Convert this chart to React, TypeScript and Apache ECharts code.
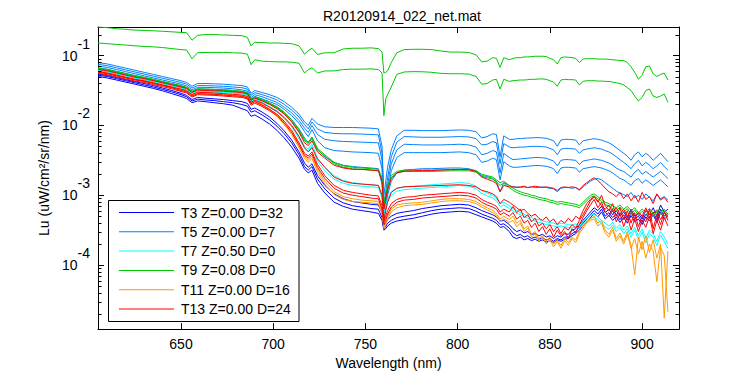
import React, { useEffect, useRef } from 'react';
import * as echarts from 'echarts';

const FONT = "'Liberation Sans', Arial, Helvetica, sans-serif";

// Wavelength grid (nm)
const wavelengths = [
  605, 610, 615, 620, 625, 630, 635, 640, 645, 650,
  653, 656, 659, 663, 668, 673, 678, 683, 686, 688,
  690, 694, 698, 702, 706, 710, 714, 717, 719, 721,
  724, 728, 733, 738, 743, 748, 753, 757, 759, 760,
  761, 762, 764, 767, 771, 776, 781, 786, 791, 796,
  801, 806, 810, 813, 816, 819, 821, 823, 825, 828,
  830, 832, 834, 836, 838, 840, 842, 844, 846, 848,
  850, 852, 854, 856, 858, 860, 862, 864, 866, 868,
  870, 872, 874, 876, 878, 880, 882, 884, 886, 888,
  890, 892, 894, 896, 898, 900, 902, 904, 906, 908, 910, 912, 914,
];

// Values are log10(Lu)
const t3Line1Log = [
  -1.265, -1.285, -1.315, -1.345, -1.375, -1.40, -1.43, -1.465, -1.50, -1.54,
  -1.57, -1.63, -1.60, -1.61, -1.62, -1.63, -1.645, -1.66, -1.685, -1.77,
  -1.75, -1.81, -1.88, -1.97, -2.08, -2.21, -2.38, -2.54, -2.60, -2.55,
  -2.72, -2.86, -2.98, -3.05, -3.09, -3.11, -3.13, -3.14, -3.25, -3.44,
  -3.40, -3.35, -3.30, -3.26, -3.24, -3.22, -3.19, -3.17, -3.15, -3.14,
  -3.13, -3.14, -3.18, -3.22, -3.25, -3.28, -3.31, -3.37, -3.36, -3.42,
  -3.48, -3.52, -3.50, -3.54, -3.52, -3.56, -3.55, -3.58, -3.56, -3.60,
  -3.58, -3.62, -3.58, -3.60, -3.55, -3.56, -3.50, -3.48, -3.42, -3.36,
  -3.30, -3.24, -3.18, -3.22, -3.16, -3.25, -3.20, -3.28, -3.22, -3.30,
  -3.24, -3.32, -3.20, -3.30, -3.26, -3.34, -3.22, -3.28, -3.18, -3.30, -3.14, -3.24, -3.20,
];
const t3Line2Log = [
  -1.28, -1.30, -1.33, -1.36, -1.39, -1.42, -1.45, -1.485, -1.52, -1.56,
  -1.59, -1.65, -1.625, -1.635, -1.645, -1.66, -1.675, -1.70, -1.725, -1.81,
  -1.79, -1.85, -1.92, -2.01, -2.12, -2.25, -2.42, -2.59, -2.64, -2.59,
  -2.77, -2.91, -3.04, -3.11, -3.15, -3.17, -3.19, -3.20, -3.32, -3.48,
  -3.45, -3.40, -3.36, -3.32, -3.30, -3.28, -3.25, -3.22, -3.20, -3.19,
  -3.18, -3.19, -3.23, -3.27, -3.30, -3.33, -3.36, -3.42, -3.41, -3.47,
  -3.54, -3.58, -3.56, -3.60, -3.58, -3.62, -3.60, -3.63, -3.61, -3.64,
  -3.62, -3.66, -3.62, -3.64, -3.60, -3.60, -3.55, -3.52, -3.46, -3.40,
  -3.34, -3.28, -3.22, -3.27, -3.20, -3.30, -3.25, -3.32, -3.27, -3.35,
  -3.28, -3.36, -3.25, -3.34, -3.30, -3.38, -3.27, -3.33, -3.24, -3.35, -3.20, -3.30, -3.26,
];
const t3Line3Log = [
  -1.30, -1.32, -1.35, -1.38, -1.41, -1.44, -1.47, -1.505, -1.545, -1.585,
  -1.615, -1.675, -1.65, -1.66, -1.675, -1.69, -1.71, -1.76, -1.79, -1.87,
  -1.85, -1.91, -1.98, -2.07, -2.18, -2.31, -2.47, -2.63, -2.68, -2.64,
  -2.83, -2.97, -3.10, -3.16, -3.20, -3.22, -3.24, -3.26, -3.36, -3.50,
  -3.48, -3.44, -3.40, -3.37, -3.35, -3.33, -3.30, -3.27, -3.25, -3.24,
  -3.23, -3.24, -3.28, -3.31, -3.34, -3.37, -3.40, -3.46, -3.45, -3.52,
  -3.60, -3.62, -3.60, -3.64, -3.62, -3.65, -3.63, -3.66, -3.64, -3.67,
  -3.65, -3.68, -3.64, -3.66, -3.63, -3.62, -3.58, -3.55, -3.50, -3.44,
  -3.38, -3.32, -3.26, -3.31, -3.24, -3.34, -3.29, -3.36, -3.31, -3.39,
  -3.32, -3.40, -3.29, -3.38, -3.34, -3.42, -3.31, -3.37, -3.28, -3.39, -3.24, -3.34, -3.30,
];

const t5Line1Log = [
  -1.10, -1.12, -1.15, -1.18, -1.21, -1.24, -1.27, -1.30, -1.33, -1.36,
  -1.385, -1.44, -1.40, -1.40, -1.405, -1.41, -1.42, -1.43, -1.45, -1.54,
  -1.50, -1.53, -1.56, -1.60, -1.66, -1.74, -1.84, -1.95, -2.00, -1.90,
  -1.98, -2.02, -2.03, -2.03, -2.03, -2.035, -2.04, -2.05, -2.30, -3.00,
  -2.80, -2.60, -2.35, -2.15, -2.07, -2.07, -2.075, -2.075, -2.075, -2.07,
  -2.065, -2.07, -2.09, -2.18, -2.16, -2.12, -2.13, -2.45, -2.15, -2.20,
  -2.20, -2.19, -2.19, -2.185, -2.18, -2.18, -2.175, -2.175, -2.18, -2.185,
  -2.20, -2.22, -2.30, -2.21, -2.20, -2.20, -2.205, -2.21, -2.28, -2.22,
  -2.21, -2.20, -2.19, -2.20, -2.21, -2.23, -2.25, -2.28, -2.32, -2.36,
  -2.40, -2.44, -2.50, -2.42, -2.38, -2.45, -2.40, -2.44, -2.50, -2.45, -2.40, -2.46, -2.52,
];
const t5Line2Log = [
  -1.125, -1.145, -1.175, -1.205, -1.235, -1.265, -1.295, -1.325, -1.355, -1.385,
  -1.41, -1.465, -1.43, -1.43, -1.435, -1.44, -1.45, -1.46, -1.48, -1.57,
  -1.53, -1.56, -1.595, -1.635, -1.70, -1.78, -1.88, -1.99, -2.05, -1.95,
  -2.05, -2.10, -2.115, -2.12, -2.12, -2.125, -2.13, -2.135, -2.40, -3.15,
  -2.95, -2.75, -2.45, -2.24, -2.16, -2.165, -2.17, -2.17, -2.17, -2.165,
  -2.16, -2.165, -2.19, -2.28, -2.27, -2.23, -2.25, -2.55, -2.26, -2.31,
  -2.32, -2.315, -2.31, -2.31, -2.305, -2.30, -2.30, -2.30, -2.305, -2.31,
  -2.33, -2.35, -2.42, -2.34, -2.33, -2.33, -2.335, -2.34, -2.40, -2.35,
  -2.34, -2.33, -2.32, -2.33, -2.34, -2.36, -2.38, -2.41, -2.45, -2.49,
  -2.53, -2.57, -2.62, -2.55, -2.50, -2.58, -2.53, -2.57, -2.62, -2.58, -2.53, -2.59, -2.64,
];
const t5Line3Log = [
  -1.15, -1.17, -1.20, -1.23, -1.26, -1.29, -1.32, -1.35, -1.38, -1.41,
  -1.435, -1.49, -1.455, -1.455, -1.46, -1.465, -1.475, -1.49, -1.51, -1.60,
  -1.56, -1.59, -1.63, -1.67, -1.74, -1.82, -1.93, -2.04, -2.10, -2.00,
  -2.13, -2.20, -2.22, -2.23, -2.235, -2.24, -2.245, -2.25, -2.50, -3.25,
  -3.05, -2.85, -2.55, -2.35, -2.27, -2.275, -2.28, -2.28, -2.28, -2.275,
  -2.27, -2.28, -2.31, -2.42, -2.40, -2.36, -2.38, -2.68, -2.40, -2.46,
  -2.49, -2.485, -2.48, -2.475, -2.47, -2.465, -2.46, -2.46, -2.465, -2.47,
  -2.49, -2.51, -2.58, -2.50, -2.49, -2.49, -2.495, -2.50, -2.56, -2.51,
  -2.50, -2.49, -2.48, -2.49, -2.50, -2.52, -2.54, -2.57, -2.61, -2.64,
  -2.66, -2.70, -2.74, -2.67, -2.63, -2.70, -2.66, -2.70, -2.74, -2.70, -2.66, -2.71, -2.76,
];
const t5Line4Log = [
  -1.175, -1.195, -1.225, -1.255, -1.285, -1.315, -1.345, -1.375, -1.405, -1.435,
  -1.46, -1.515, -1.48, -1.48, -1.485, -1.49, -1.50, -1.515, -1.535, -1.625,
  -1.585, -1.62, -1.66, -1.70, -1.77, -1.86, -1.97, -2.09, -2.16, -2.06,
  -2.22, -2.32, -2.36, -2.37, -2.38, -2.385, -2.39, -2.40, -2.62, -3.30,
  -3.15, -2.95, -2.65, -2.46, -2.39, -2.39, -2.39, -2.39, -2.39, -2.385,
  -2.38, -2.39, -2.42, -2.53, -2.51, -2.47, -2.49, -2.78, -2.52, -2.58,
  -2.60, -2.60, -2.595, -2.59, -2.585, -2.58, -2.575, -2.575, -2.58, -2.585,
  -2.60, -2.62, -2.69, -2.61, -2.60, -2.60, -2.605, -2.61, -2.67, -2.62,
  -2.61, -2.60, -2.59, -2.60, -2.61, -2.63, -2.65, -2.68, -2.72, -2.76,
  -2.78, -2.82, -2.86, -2.79, -2.76, -2.83, -2.78, -2.82, -2.86, -2.82, -2.78, -2.83, -2.88,
];
const t5Line5Log = [
  -1.19, -1.21, -1.24, -1.27, -1.30, -1.325, -1.355, -1.385, -1.415, -1.445,
  -1.465, -1.52, -1.485, -1.49, -1.495, -1.50, -1.51, -1.52, -1.54, -1.63,
  -1.60, -1.64, -1.69, -1.74, -1.82, -1.92, -2.05, -2.18, -2.25, -2.17,
  -2.35, -2.45, -2.53, -2.57, -2.59, -2.60, -2.61, -2.62, -2.85, -3.35,
  -3.20, -3.00, -2.80, -2.68, -2.64, -2.63, -2.62, -2.62, -2.615, -2.61,
  -2.61, -2.62, -2.65, -2.72, -2.73, -2.76, -2.80, -2.95, -2.82, -2.86,
  -2.88, -2.88, -2.89, -2.88, -2.89, -2.88, -2.89, -2.89, -2.88, -2.89,
  -2.90, -2.91, -2.95, -2.90, -2.89, -2.89, -2.90, -2.89, -2.93, -2.88,
  -2.84, -2.80, -2.77, -2.76, -2.78, -2.82, -2.86, -2.90, -2.94, -2.97,
  -2.99, -3.02, -2.96, -3.04, -3.00, -3.06, -2.98, -3.03, -3.08, -2.99, -3.05, -3.02, -3.07,
];

const t7Line1Log = [
  -1.21, -1.23, -1.26, -1.29, -1.32, -1.34, -1.37, -1.40, -1.43, -1.46,
  -1.48, -1.54, -1.505, -1.51, -1.515, -1.52, -1.53, -1.54, -1.56, -1.65,
  -1.62, -1.67, -1.73, -1.79, -1.88, -2.00, -2.16, -2.30, -2.34, -2.27,
  -2.47, -2.60, -2.72, -2.79, -2.82, -2.84, -2.85, -2.86, -3.00, -3.25,
  -3.15, -3.05, -2.95, -2.90, -2.88, -2.87, -2.86, -2.85, -2.84, -2.83,
  -2.82, -2.83, -2.87, -2.93, -2.97, -3.00, -3.04, -3.12, -3.10, -3.15,
  -3.19, -3.22, -3.25, -3.27, -3.30, -3.32, -3.34, -3.35, -3.37, -3.38,
  -3.39, -3.40, -3.42, -3.40, -3.41, -3.42, -3.43, -3.41, -3.44, -3.38,
  -3.33, -3.29, -3.27, -3.31, -3.36, -3.40, -3.44, -3.39, -3.47, -3.42,
  -3.50, -3.44, -3.55, -3.46, -3.58, -3.48, -3.62, -3.50, -3.55, -3.66, -3.52, -3.60, -3.70,
];
const t7Line2Log = [
  -1.215, -1.235, -1.265, -1.295, -1.325, -1.345, -1.375, -1.405, -1.435, -1.465,
  -1.49, -1.55, -1.515, -1.52, -1.525, -1.53, -1.54, -1.55, -1.57, -1.66,
  -1.63, -1.68, -1.74, -1.81, -1.90, -2.02, -2.19, -2.33, -2.37, -2.30,
  -2.51, -2.65, -2.77, -2.83, -2.86, -2.87, -2.88, -2.89, -3.05, -3.30,
  -3.20, -3.10, -3.00, -2.94, -2.92, -2.91, -2.90, -2.89, -2.88, -2.87,
  -2.86, -2.87, -2.91, -2.97, -3.01, -3.04, -3.08, -3.16, -3.14, -3.19,
  -3.23, -3.26, -3.28, -3.31, -3.33, -3.36, -3.37, -3.39, -3.40, -3.42,
  -3.43, -3.44, -3.46, -3.44, -3.45, -3.46, -3.47, -3.45, -3.48, -3.42,
  -3.37, -3.33, -3.31, -3.35, -3.40, -3.45, -3.49, -3.43, -3.52, -3.46,
  -3.55, -3.48, -3.60, -3.50, -3.63, -3.53, -3.68, -3.55, -3.60, -3.72, -3.57, -3.66, -3.76,
];

const t9Line1Log = [
  -0.59, -0.60, -0.615, -0.625, -0.635, -0.64, -0.645, -0.652, -0.66, -0.668,
  -0.672, -0.78, -0.71, -0.70, -0.70, -0.705, -0.71, -0.715, -0.74, -0.86,
  -0.81, -0.815, -0.82, -0.82, -0.825, -0.83, -0.86, -0.98, -0.93, -0.895,
  -0.985, -0.96, -0.96, -0.905, -0.895, -0.895, -0.89, -0.90, -0.95, -1.25,
  -1.24, -1.22, -1.10, -0.96, -0.915, -0.91, -0.91, -0.915, -0.935, -0.95,
  -0.95, -0.955, -0.99, -1.09, -1.08, -1.03, -1.04, -1.17, -1.03, -1.06,
  -1.04, -1.03, -1.03, -1.02, -1.02, -1.015, -1.01, -1.01, -1.01, -1.015,
  -1.04, -1.06, -1.12, -1.03, -1.02, -1.025, -1.03, -1.04, -1.10, -1.05,
  -1.045, -1.045, -1.045, -1.05, -1.05, -1.05, -1.055, -1.06, -1.065, -1.07,
  -1.07, -1.10, -1.16, -1.24, -1.34, -1.28, -1.16, -1.15, -1.26, -1.30, -1.27, -1.25, -1.35,
];
const t9Line2Log = [
  -0.82, -0.83, -0.84, -0.85, -0.86, -0.87, -0.875, -0.885, -0.90, -0.915,
  -0.92, -1.045, -0.96, -0.955, -0.955, -0.955, -0.96, -0.965, -0.98, -1.13,
  -1.06, -1.08, -1.085, -1.09, -1.09, -1.095, -1.11, -1.25, -1.20, -1.175,
  -1.25, -1.22, -1.22, -1.20, -1.195, -1.195, -1.19, -1.20, -1.25, -1.86,
  -1.62, -1.56, -1.45, -1.27, -1.235, -1.23, -1.232, -1.24, -1.255, -1.26,
  -1.26, -1.265, -1.30, -1.41, -1.40, -1.35, -1.34, -1.48, -1.34, -1.37,
  -1.36, -1.355, -1.35, -1.35, -1.345, -1.34, -1.34, -1.335, -1.335, -1.34,
  -1.36, -1.38, -1.44, -1.35, -1.34, -1.345, -1.345, -1.35, -1.42, -1.37,
  -1.36, -1.36, -1.36, -1.365, -1.365, -1.37, -1.37, -1.38, -1.39, -1.40,
  -1.42, -1.46, -1.50, -1.58, -1.65, -1.60, -1.50, -1.48, -1.58, -1.60, -1.58, -1.55, -1.67,
];
const t9Line3Log = [
  -1.18, -1.20, -1.23, -1.26, -1.29, -1.31, -1.34, -1.37, -1.40, -1.43,
  -1.455, -1.51, -1.475, -1.48, -1.485, -1.49, -1.50, -1.51, -1.53, -1.62,
  -1.59, -1.63, -1.68, -1.73, -1.81, -1.92, -2.06, -2.20, -2.24, -2.17,
  -2.33, -2.42, -2.53, -2.58, -2.60, -2.61, -2.62, -2.63, -2.75, -3.10,
  -2.98, -2.86, -2.72, -2.66, -2.64, -2.64, -2.64, -2.64, -2.635, -2.63,
  -2.63, -2.63, -2.65, -2.70, -2.72, -2.74, -2.78, -2.82, -2.80, -2.86,
  -2.90, -2.93, -2.95, -2.97, -2.98, -3.00, -3.01, -3.03, -3.04, -3.05,
  -3.07, -3.08, -3.10, -3.09, -3.10, -3.11, -3.12, -3.13, -3.15, -3.10,
  -3.05, -3.00, -2.98, -3.02, -3.06, -3.10, -3.12, -3.15, -3.18, -3.14,
  -3.20, -3.16, -3.22, -3.18, -3.25, -3.20, -3.24, -3.19, -3.26, -3.21, -3.24, -3.20, -3.28,
];
const t9Line4Log = [
  -1.19, -1.21, -1.24, -1.27, -1.30, -1.32, -1.35, -1.38, -1.41, -1.44,
  -1.465, -1.52, -1.485, -1.49, -1.495, -1.50, -1.51, -1.52, -1.54, -1.63,
  -1.60, -1.64, -1.69, -1.75, -1.83, -1.94, -2.08, -2.22, -2.26, -2.19,
  -2.35, -2.44, -2.55, -2.60, -2.62, -2.63, -2.64, -2.65, -2.78, -3.15,
  -3.02, -2.90, -2.75, -2.68, -2.66, -2.66, -2.66, -2.66, -2.655, -2.65,
  -2.65, -2.65, -2.67, -2.73, -2.75, -2.77, -2.81, -2.86, -2.83, -2.89,
  -2.93, -2.96, -2.98, -3.00, -3.01, -3.03, -3.04, -3.06, -3.07, -3.08,
  -3.10, -3.11, -3.13, -3.12, -3.13, -3.14, -3.15, -3.16, -3.18, -3.13,
  -3.08, -3.03, -3.01, -3.05, -3.09, -3.13, -3.16, -3.19, -3.22, -3.17,
  -3.24, -3.19, -3.27, -3.21, -3.29, -3.23, -3.28, -3.22, -3.30, -3.24, -3.28, -3.23, -3.32,
];

const t11Line1Log = [
  -1.23, -1.25, -1.28, -1.31, -1.34, -1.36, -1.39, -1.42, -1.45, -1.49,
  -1.51, -1.57, -1.535, -1.54, -1.545, -1.555, -1.565, -1.575, -1.595, -1.68,
  -1.65, -1.70, -1.77, -1.85, -1.96, -2.10, -2.29, -2.45, -2.50, -2.44,
  -2.63, -2.80, -2.95, -3.02, -3.05, -3.07, -3.08, -3.09, -3.22, -3.45,
  -3.38, -3.30, -3.20, -3.14, -3.12, -3.11, -3.10, -3.08, -3.06, -3.05,
  -3.05, -3.06, -3.09, -3.14, -3.18, -3.22, -3.26, -3.34, -3.30, -3.35,
  -3.30, -3.40, -3.36, -3.48, -3.44, -3.56, -3.52, -3.62, -3.58, -3.66,
  -3.60, -3.70, -3.64, -3.72, -3.62, -3.68, -3.60, -3.64, -3.52, -3.44,
  -3.38, -3.34, -3.30, -3.40, -3.36, -3.50, -3.56, -3.46, -3.62, -3.54,
  -3.66, -3.52, -3.72, -4.14, -3.60, -3.78, -3.58, -3.82, -3.64, -3.90, -3.70, -4.76, -3.80,
];
const t11Line2Log = [
  -1.235, -1.255, -1.285, -1.315, -1.345, -1.365, -1.395, -1.425, -1.455, -1.495,
  -1.52, -1.58, -1.545, -1.55, -1.555, -1.565, -1.575, -1.585, -1.605, -1.69,
  -1.66, -1.71, -1.78, -1.87, -1.99, -2.13, -2.32, -2.48, -2.53, -2.47,
  -2.67, -2.84, -2.99, -3.06, -3.09, -3.10, -3.11, -3.12, -3.26, -3.48,
  -3.42, -3.34, -3.24, -3.18, -3.15, -3.14, -3.13, -3.11, -3.09, -3.08,
  -3.08, -3.09, -3.12, -3.17, -3.21, -3.25, -3.29, -3.38, -3.34, -3.39,
  -3.36, -3.45, -3.40, -3.52, -3.47, -3.60, -3.55, -3.66, -3.60, -3.70,
  -3.64, -3.74, -3.66, -3.76, -3.65, -3.72, -3.62, -3.68, -3.55, -3.47,
  -3.40, -3.36, -3.34, -3.44, -3.40, -3.54, -3.60, -3.50, -3.66, -3.58,
  -3.70, -3.56, -3.76, -3.62, -3.84, -3.66, -3.90, -3.70, -3.80, -4.24, -3.75, -3.86, -4.67,
];

const t13Line1Log = [
  -1.20, -1.22, -1.25, -1.28, -1.31, -1.33, -1.36, -1.39, -1.42, -1.45,
  -1.47, -1.53, -1.495, -1.50, -1.505, -1.51, -1.52, -1.53, -1.55, -1.64,
  -1.61, -1.65, -1.70, -1.76, -1.84, -1.95, -2.10, -2.25, -2.29, -2.22,
  -2.38, -2.47, -2.57, -2.61, -2.63, -2.63, -2.64, -2.65, -2.80, -3.20,
  -3.05, -2.92, -2.76, -2.68, -2.655, -2.65, -2.645, -2.645, -2.64, -2.635,
  -2.63, -2.635, -2.66, -2.74, -2.77, -2.80, -2.83, -2.95, -2.86, -2.88,
  -2.88, -2.89, -2.88, -2.87, -2.89, -2.88, -2.87, -2.88, -2.89, -2.88,
  -2.89, -2.90, -2.93, -2.89, -2.88, -2.89, -2.88, -2.89, -2.92, -2.86,
  -2.82, -2.78, -2.75, -2.79, -2.84, -2.90, -2.95, -2.98, -3.02, -2.96,
  -3.05, -2.98, -3.08, -3.00, -3.10, -2.96, -3.06, -3.02, -3.12, -2.98, -3.07, -3.03, -3.10,
];
const t13Line2Log = [
  -1.23, -1.25, -1.28, -1.31, -1.34, -1.36, -1.39, -1.42, -1.45, -1.48,
  -1.50, -1.56, -1.525, -1.53, -1.535, -1.545, -1.555, -1.565, -1.585, -1.67,
  -1.64, -1.68, -1.74, -1.80, -1.89, -2.00, -2.16, -2.32, -2.38, -2.32,
  -2.48, -2.60, -2.74, -2.80, -2.83, -2.84, -2.85, -2.86, -3.00, -3.35,
  -3.22, -3.10, -2.96, -2.90, -2.88, -2.875, -2.87, -2.865, -2.86, -2.855,
  -2.85, -2.86, -2.88, -2.93, -2.95, -2.98, -3.02, -3.12, -3.06, -3.10,
  -3.14, -3.18, -3.22, -3.20, -3.26, -3.30, -3.27, -3.33, -3.36, -3.31,
  -3.38, -3.34, -3.42, -3.36, -3.40, -3.33, -3.38, -3.30, -3.34, -3.22,
  -3.12, -3.06, -3.02, -3.08, -3.15, -3.20, -3.14, -3.24, -3.18, -3.27,
  -3.20, -3.30, -3.22, -3.34, -3.24, -3.30, -3.18, -3.32, -3.26, -3.22, -3.35, -3.25, -3.30,
];
const t13Line3Log = [
  -1.24, -1.26, -1.29, -1.32, -1.35, -1.37, -1.40, -1.43, -1.46, -1.50,
  -1.52, -1.58, -1.545, -1.55, -1.555, -1.565, -1.575, -1.585, -1.605, -1.69,
  -1.66, -1.71, -1.77, -1.84, -1.94, -2.07, -2.25, -2.40, -2.44, -2.38,
  -2.56, -2.72, -2.86, -2.93, -2.96, -2.98, -3.00, -3.01, -3.15, -3.38,
  -3.30, -3.22, -3.12, -3.06, -3.03, -3.02, -3.00, -2.99, -2.98, -2.97,
  -2.96, -2.97, -3.00, -3.06, -3.10, -3.13, -3.16, -3.24, -3.20, -3.24,
  -3.16, -3.25, -3.20, -3.32, -3.28, -3.38, -3.33, -3.44, -3.40, -3.48,
  -3.42, -3.52, -3.45, -3.55, -3.46, -3.50, -3.42, -3.47, -3.36, -3.28,
  -3.18, -3.08, -3.02, -3.10, -3.00, -3.15, -3.22, -3.12, -3.30, -3.18,
  -3.35, -3.22, -3.40, -3.25, -3.45, -3.30, -3.38, -3.20, -3.48, -3.28, -3.42, -3.24, -3.36,
];
const t13Line4Log = [
  -1.255, -1.275, -1.305, -1.335, -1.365, -1.385, -1.415, -1.445, -1.475, -1.515,
  -1.535, -1.595, -1.56, -1.565, -1.57, -1.58, -1.59, -1.60, -1.62, -1.71,
  -1.68, -1.73, -1.79, -1.86, -1.97, -2.10, -2.28, -2.43, -2.47, -2.41,
  -2.60, -2.76, -2.90, -2.97, -3.00, -3.02, -3.04, -3.05, -3.20, -3.42,
  -3.35, -3.27, -3.17, -3.10, -3.07, -3.06, -3.04, -3.03, -3.02, -3.01,
  -3.00, -3.01, -3.04, -3.10, -3.14, -3.17, -3.20, -3.28, -3.25, -3.30,
  -3.25, -3.34, -3.30, -3.40, -3.36, -3.46, -3.40, -3.52, -3.45, -3.56,
  -3.48, -3.60, -3.50, -3.58, -3.52, -3.62, -3.48, -3.54, -3.42, -3.32,
  -3.22, -3.14, -3.06, -3.18, -3.10, -3.24, -3.30, -3.20, -3.38, -3.26,
  -3.45, -3.30, -3.50, -3.34, -3.52, -3.36, -3.46, -3.30, -3.55, -3.36, -3.50, -3.32, -3.44,
];

const legendNames = [
  'T3 Z=0.00 D=32',
  'T5 Z=0.00 D=7',
  'T7 Z=0.50 D=0',
  'T9 Z=0.08 D=0',
  'T11 Z=0.00 D=16',
  'T13 Z=0.00 D=24',
];
const legendColors = ['#0000FF', '#0080FF', '#00FFFF', '#00C800', '#FF9900', '#FF0000'];
const groupLines = [
  [t3Line1Log, t3Line2Log, t3Line3Log],
  [t5Line1Log, t5Line2Log, t5Line3Log, t5Line4Log, t5Line5Log],
  [t7Line1Log, t7Line2Log],
  [t9Line1Log, t9Line2Log, t9Line3Log, t9Line4Log],
  [t11Line1Log, t11Line2Log],
  [t13Line1Log, t13Line2Log, t13Line3Log, t13Line4Log],
];

const xTickLabels = [650, 700, 750, 800, 850, 900];
const yMajorTicks = [1e-4, 1e-3, 1e-2, 1e-1];
const yMinorTicks = [
  2e-5, 3e-5, 4e-5, 5e-5, 6e-5, 7e-5, 8e-5, 9e-5,
  2e-4, 3e-4, 4e-4, 5e-4, 6e-4, 7e-4, 8e-4, 9e-4,
  2e-3, 3e-3, 4e-3, 5e-3, 6e-3, 7e-3, 8e-3, 9e-3,
  2e-2, 3e-2, 4e-2, 5e-2, 6e-2, 7e-2, 8e-2, 9e-2,
  2e-1,
];

const X_MIN = 605;
const X_MAX = 920;
const Y_MIN = 1.21e-5;
const Y_MAX = 0.2565;

// legend icon: a 1px horizontal bar inside a 55x14 box
const LEGEND_ICON = 'path://M0,0 M0,6.5 L55,6.5 L55,7.5 L0,7.5 Z M55,14';

export default function App() {
  const ref = useRef<HTMLDivElement>(null);

  useEffect(() => {
    if (!ref.current) return;
    const chart = echarts.init(ref.current, null, { renderer: 'svg' });

    const lineSeries: any[] = [];
    groupLines.forEach((lines, gi) => {
      lines.forEach((arr) => {
        lineSeries.push({
          type: 'line',
          name: legendNames[gi],
          color: legendColors[gi],
          data: wavelengths.map((w, i) => [w, Math.pow(10, arr[i])]),
          symbol: 'none',
          showSymbol: false,
          silent: true,
          lineStyle: { width: 1, color: legendColors[gi] },
          itemStyle: { color: legendColors[gi], borderWidth: 0 },
          emphasis: { disabled: true },
          z: 2,
        });
      });
    });

    const minorTickSeries = {
      type: 'custom',
      silent: true,
      clip: false,
      z: 5,
      data: yMinorTicks.map((v) => [X_MIN, v]),
      encode: { x: 0, y: 1 },
      renderItem: (params: any, api: any) => {
        const pt = api.coord([api.value(0), api.value(1)]);
        const cs = params.coordSys;
        const y = Math.round(pt[1]) + 0.5;
        return {
          type: 'group',
          children: [
            { type: 'line', shape: { x1: cs.x, y1: y, x2: cs.x + 3.5, y2: y }, style: { stroke: '#000', lineWidth: 1 } },
            { type: 'line', shape: { x1: cs.x + cs.width - 3.5, y1: y, x2: cs.x + cs.width, y2: y }, style: { stroke: '#000', lineWidth: 1 } },
          ],
        };
      },
    };

    const yLabelFormatter = (v: number) => {
      const e = Math.log10(v);
      const r = Math.round(e);
      if (Math.abs(e - r) > 1e-6) return '';
      if (!yMajorTicks.some((t) => Math.abs(Math.log10(t) - r) < 1e-6)) return '';
      return '{b|10}{e|' + r + '}';
    };

    const axisCommon = {
      axisLine: { show: true, lineStyle: { color: '#000', width: 1 } },
      axisTick: { show: true, inside: true, length: 6, lineStyle: { color: '#000', width: 1 } },
      splitLine: { show: false },
    };

    chart.setOption({
      animation: false,
      backgroundColor: '#ffffff',
      textStyle: { fontFamily: FONT },
      title: {
        text: 'R20120914_022_net.mat',
        left: 397,
        top: 4,
        textAlign: 'center',
        textStyle: { fontSize: 14, fontWeight: 'normal', color: '#000', fontFamily: FONT },
      },
      grid: { left: 98, top: 27, width: 581, height: 304, containLabel: false },
      legend: {
        data: legendNames.map((n) => ({ name: n, icon: LEGEND_ICON })),
        icon: LEGEND_ICON,
        orient: 'vertical',
        left: 119,
        top: 205.5,
        itemWidth: 55,
        itemHeight: 14,
        itemGap: 5.3,
        padding: 0,
        selectedMode: false,
        z: 10,
        itemStyle: { borderWidth: 0 },
        textStyle: { fontSize: 14, color: '#000', fontFamily: FONT, padding: [0, 0, 0, 2] },
      },
      graphic: [
        {
          type: 'rect',
          z: 8,
          shape: { x: 108.5, y: 200.5, width: 190.5, height: 121 },
          style: { fill: '#ffffff', stroke: '#000000', lineWidth: 1 },
        },
      ],
      xAxis: [
        {
          type: 'value',
          min: X_MIN,
          max: X_MAX,
          position: 'bottom',
          ...axisCommon,
          axisLabel: {
            show: true,
            margin: 8,
            fontSize: 14,
            color: '#000',
            fontFamily: FONT,
            showMinLabel: false,
            showMaxLabel: false,
            formatter: (v: number) => (xTickLabels.includes(v) ? String(v) : ''),
          },
          name: 'Wavelength (nm)',
          nameLocation: 'middle',
          nameGap: 25,
          nameTextStyle: { fontSize: 14, color: '#000', fontFamily: FONT },
        },
        {
          type: 'value',
          min: X_MIN,
          max: X_MAX,
          position: 'top',
          ...axisCommon,
          axisLabel: { show: false },
        },
      ],
      yAxis: [
        {
          type: 'log',
          logBase: 10,
          min: Y_MIN,
          max: Y_MAX,
          position: 'left',
          ...axisCommon,
          axisLabel: {
            show: true,
            margin: 8,
            color: '#000',
            fontFamily: FONT,
            formatter: yLabelFormatter,
            rich: {
              b: { fontSize: 14, color: '#000', fontFamily: FONT, padding: [12, 0, 12, 0], verticalAlign: 'top' },
              e: { fontSize: 14, color: '#000', fontFamily: FONT, padding: [0, 0, 24, 0], verticalAlign: 'top' },
            },
          },
          name: 'Lu (uW/cm\u00B2/sr/nm)',
          nameLocation: 'middle',
          nameGap: 37,
          nameRotate: 90,
          nameTextStyle: { fontSize: 14, color: '#000', fontFamily: FONT },
        },
        {
          type: 'log',
          logBase: 10,
          min: Y_MIN,
          max: Y_MAX,
          position: 'right',
          ...axisCommon,
          axisLabel: { show: false },
        },
      ],
      series: [...lineSeries, minorTickSeries],
    });

    return () => {
      chart.dispose();
    };
  }, []);

  return (
    <div
      ref={ref}
      style={{ position: 'fixed', left: 0, top: 0, width: 750, height: 375, background: '#ffffff' }}
    />
  );
}
